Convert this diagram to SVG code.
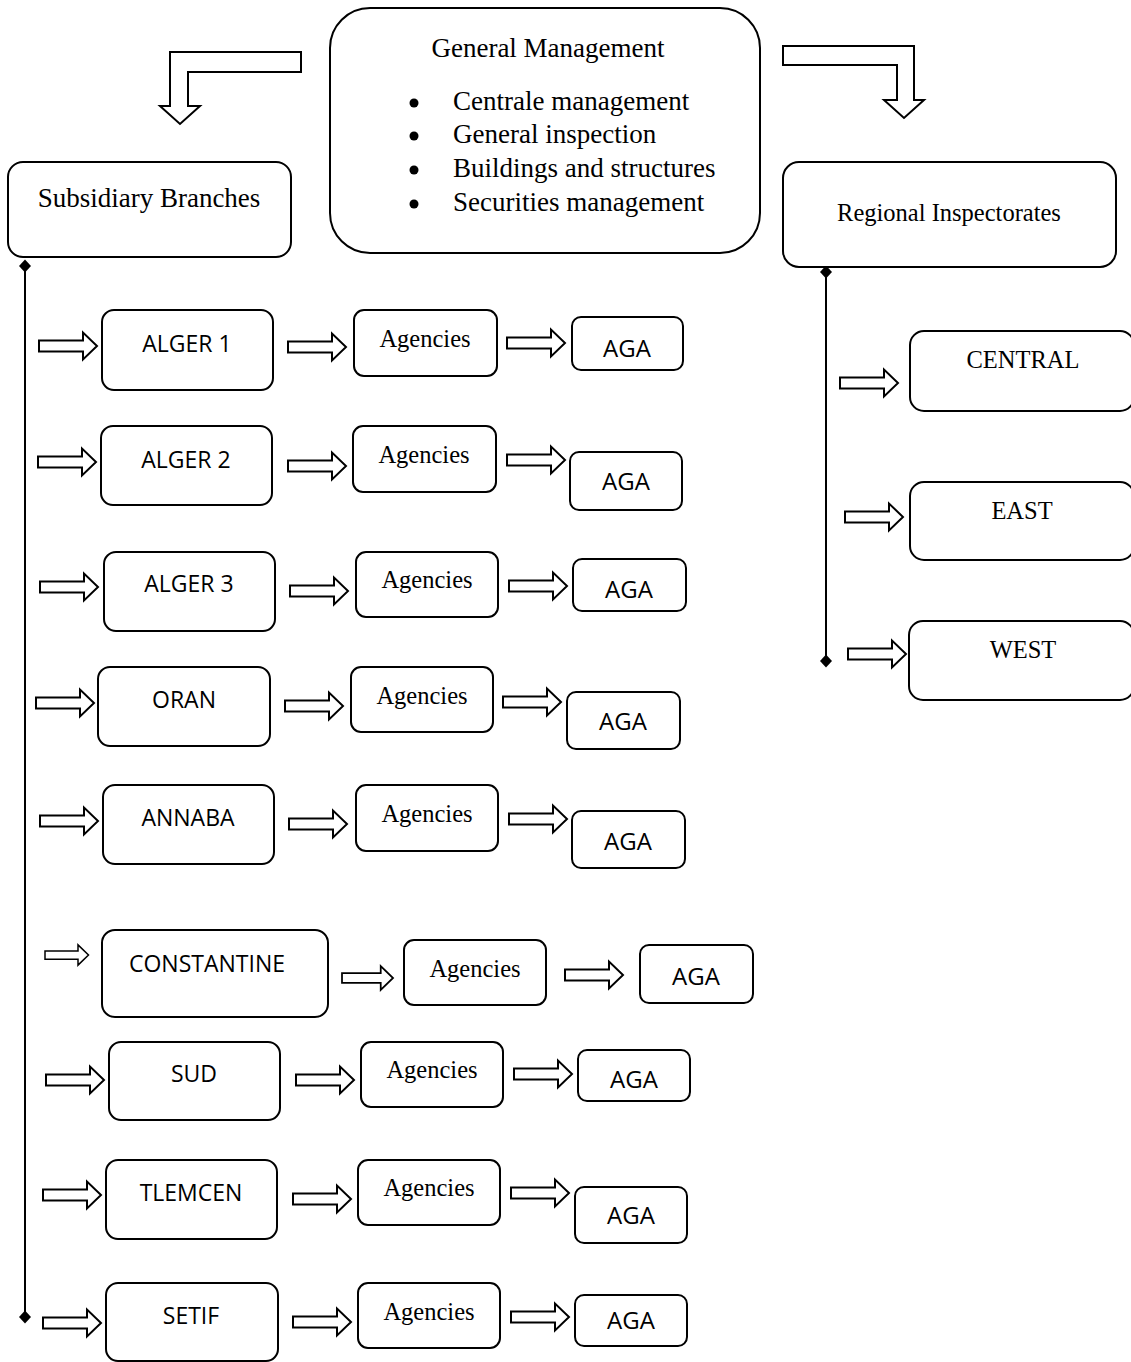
<svg xmlns="http://www.w3.org/2000/svg" xmlns:xlink="http://www.w3.org/1999/xlink" width="1131" height="1362" viewBox="0 0 1131 1362">
<style>
.box{fill:#fff;stroke:#000;stroke-width:2}
.arr{fill:#fff;stroke:#000;stroke-width:2;stroke-linejoin:miter}
.ln{stroke:#000;stroke-width:2;fill:none}
.serif{font-family:"Liberation Serif","Times New Roman",serif;fill:#000}
.sans{font-family:"Open Sans","Liberation Sans",sans-serif;fill:#000}
.t24{font-size:24.5px}
.t27{font-size:27px}
.br{font-size:23px}
.aga{font-size:24px}
</style>
<defs>
<path id="ba" class="arr" d="M0,-5.5 H44 V-13.5 L58,0 L44,13.5 V5.5 H0 Z"/>
<marker id="dia" viewBox="-7 -7 14 14" markerWidth="14" markerHeight="14" markerUnits="userSpaceOnUse" refX="0" refY="0" orient="0">
<path d="M-6,0 L0,-6.5 L6,0 L0,6.5 Z" fill="#000"/>
</marker>
</defs>

<g id="connectors">
<path class="arr" d="M301,52 L170,52 L170,106 L160,106 L180,124 L200,106 L188,106 L188,72 L301,72 Z"/>
<path class="arr" d="M783,46 L914,46 L914,100 L924,100 L904,118 L884,100 L897,100 L897,65 L783,65 Z"/>
<line class="ln" x1="25" y1="266" x2="25" y2="1317" marker-start="url(#dia)" marker-end="url(#dia)"/>
<line class="ln" x1="826" y1="272" x2="826" y2="661" marker-start="url(#dia)" marker-end="url(#dia)"/>
<use xlink:href="#ba" href="#ba" x="39" y="346"/>
<use xlink:href="#ba" href="#ba" x="288" y="347"/>
<use xlink:href="#ba" href="#ba" x="507" y="343"/>
<use xlink:href="#ba" href="#ba" x="38" y="462"/>
<use xlink:href="#ba" href="#ba" x="288" y="466"/>
<use xlink:href="#ba" href="#ba" x="507" y="460"/>
<use xlink:href="#ba" href="#ba" x="40" y="587"/>
<use xlink:href="#ba" href="#ba" x="290" y="591"/>
<use xlink:href="#ba" href="#ba" x="509" y="586"/>
<use xlink:href="#ba" href="#ba" x="36" y="703"/>
<use xlink:href="#ba" href="#ba" x="285" y="706"/>
<use xlink:href="#ba" href="#ba" x="503" y="702"/>
<use xlink:href="#ba" href="#ba" x="40" y="821"/>
<use xlink:href="#ba" href="#ba" x="289" y="824"/>
<use xlink:href="#ba" href="#ba" x="509" y="819"/>
<use xlink:href="#ba" href="#ba" transform="translate(45,955) scale(0.75)"/>
<use xlink:href="#ba" href="#ba" transform="translate(342,978) scale(0.88)"/>
<use xlink:href="#ba" href="#ba" x="565" y="975"/>
<use xlink:href="#ba" href="#ba" x="46" y="1080"/>
<use xlink:href="#ba" href="#ba" x="296" y="1080"/>
<use xlink:href="#ba" href="#ba" x="514" y="1074"/>
<use xlink:href="#ba" href="#ba" x="43" y="1195"/>
<use xlink:href="#ba" href="#ba" x="293" y="1199"/>
<use xlink:href="#ba" href="#ba" x="511" y="1193"/>
<use xlink:href="#ba" href="#ba" x="43" y="1323"/>
<use xlink:href="#ba" href="#ba" x="293" y="1322"/>
<use xlink:href="#ba" href="#ba" x="511" y="1317"/>
<use xlink:href="#ba" href="#ba" x="840" y="383"/>
<use xlink:href="#ba" href="#ba" x="845" y="517"/>
<use xlink:href="#ba" href="#ba" x="848" y="654"/>
</g>

<g id="general-management">
<rect class="box" x="330" y="8" width="430" height="245" rx="40"/>
<text class="serif t27" x="548" y="57" text-anchor="middle">General Management</text>
<circle cx="414" cy="103" r="4.5"/>
<circle cx="414" cy="136" r="4.5"/>
<circle cx="414" cy="170" r="4.5"/>
<circle cx="414" cy="204" r="4.5"/>
<text class="serif t27" x="453" y="110">Centrale management</text>
<text class="serif t27" x="453" y="143">General inspection</text>
<text class="serif t27" x="453" y="177">Buildings and structures</text>
<text class="serif t27" x="453" y="211">Securities management</text>
</g>

<g id="subsidiary-branches">
<rect class="box" x="8" y="162" width="283" height="95" rx="15"/>
<text class="serif t27" x="149" y="207" text-anchor="middle">Subsidiary Branches</text>
</g>

<g id="regional-inspectorates">
<rect class="box" x="783" y="162" width="333" height="105" rx="16"/>
<text class="serif t24" x="949" y="221" text-anchor="middle">Regional Inspectorates</text>
</g>

<g id="central"><rect class="box" x="910" y="331" width="224" height="80" rx="14"/><text class="serif t24" x="1023" y="368" text-anchor="middle">CENTRAL</text></g>
<g id="east"><rect class="box" x="910" y="482" width="224" height="78" rx="14"/><text class="serif t24" x="1022" y="519" text-anchor="middle">EAST</text></g>
<g id="west"><rect class="box" x="909" y="621" width="225" height="79" rx="14"/><text class="serif t24" x="1023" y="658" text-anchor="middle">WEST</text></g>

<g id="alger1"><rect class="box" x="102" y="310" width="171" height="80" rx="12"/><text class="sans br" x="187" y="352" text-anchor="middle">ALGER 1</text></g>
<g id="agencies1"><rect class="box" x="354" y="310" width="143" height="66" rx="10"/><text class="serif t24" x="425" y="347" text-anchor="middle">Agencies</text></g>
<g id="aga1"><rect class="box" x="572" y="317" width="111" height="53" rx="9"/><text class="sans aga" x="627" y="357" text-anchor="middle">AGA</text></g>

<g id="alger2"><rect class="box" x="101" y="426" width="171" height="79" rx="12"/><text class="sans br" x="186" y="468" text-anchor="middle">ALGER 2</text></g>
<g id="agencies2"><rect class="box" x="353" y="426" width="143" height="66" rx="10"/><text class="serif t24" x="424" y="463" text-anchor="middle">Agencies</text></g>
<g id="aga2"><rect class="box" x="570" y="452" width="112" height="58" rx="9"/><text class="sans aga" x="626" y="490" text-anchor="middle">AGA</text></g>

<g id="alger3"><rect class="box" x="104" y="552" width="171" height="79" rx="12"/><text class="sans br" x="189" y="592" text-anchor="middle">ALGER 3</text></g>
<g id="agencies3"><rect class="box" x="356" y="552" width="142" height="65" rx="10"/><text class="serif t24" x="427" y="588" text-anchor="middle">Agencies</text></g>
<g id="aga3"><rect class="box" x="573" y="559" width="113" height="52" rx="9"/><text class="sans aga" x="629" y="598" text-anchor="middle">AGA</text></g>

<g id="oran"><rect class="box" x="98" y="667" width="172" height="79" rx="12"/><text class="sans br" x="184" y="708" text-anchor="middle">ORAN</text></g>
<g id="agencies4"><rect class="box" x="351" y="667" width="142" height="65" rx="10"/><text class="serif t24" x="422" y="704" text-anchor="middle">Agencies</text></g>
<g id="aga4"><rect class="box" x="567" y="692" width="113" height="57" rx="9"/><text class="sans aga" x="623" y="730" text-anchor="middle">AGA</text></g>

<g id="annaba"><rect class="box" x="103" y="785" width="171" height="79" rx="12"/><text class="sans br" x="188" y="826" text-anchor="middle">ANNABA</text></g>
<g id="agencies5"><rect class="box" x="356" y="785" width="142" height="66" rx="10"/><text class="serif t24" x="427" y="822" text-anchor="middle">Agencies</text></g>
<g id="aga5"><rect class="box" x="572" y="811" width="113" height="57" rx="9"/><text class="sans aga" x="628" y="850" text-anchor="middle">AGA</text></g>

<g id="constantine"><rect class="box" x="102" y="930" width="226" height="87" rx="13"/><text class="sans br" x="207" y="972" text-anchor="middle">CONSTANTINE</text></g>
<g id="agencies6"><rect class="box" x="404" y="940" width="142" height="65" rx="10"/><text class="serif t24" x="475" y="977" text-anchor="middle">Agencies</text></g>
<g id="aga6"><rect class="box" x="640" y="945" width="113" height="58" rx="9"/><text class="sans aga" x="696" y="985" text-anchor="middle">AGA</text></g>

<g id="sud"><rect class="box" x="109" y="1042" width="171" height="78" rx="12"/><text class="sans br" x="194" y="1082" text-anchor="middle">SUD</text></g>
<g id="agencies7"><rect class="box" x="361" y="1042" width="142" height="65" rx="10"/><text class="serif t24" x="432" y="1078" text-anchor="middle">Agencies</text></g>
<g id="aga7"><rect class="box" x="578" y="1050" width="112" height="51" rx="9"/><text class="sans aga" x="634" y="1088" text-anchor="middle">AGA</text></g>

<g id="tlemcen"><rect class="box" x="106" y="1160" width="171" height="79" rx="12"/><text class="sans br" x="191" y="1201" text-anchor="middle">TLEMCEN</text></g>
<g id="agencies8"><rect class="box" x="358" y="1160" width="142" height="65" rx="10"/><text class="serif t24" x="429" y="1196" text-anchor="middle">Agencies</text></g>
<g id="aga8"><rect class="box" x="575" y="1187" width="112" height="56" rx="9"/><text class="sans aga" x="631" y="1224" text-anchor="middle">AGA</text></g>

<g id="setif"><rect class="box" x="106" y="1283" width="172" height="78" rx="12"/><text class="sans br" x="191" y="1324" text-anchor="middle">SETIF</text></g>
<g id="agencies9"><rect class="box" x="358" y="1283" width="142" height="65" rx="10"/><text class="serif t24" x="429" y="1320" text-anchor="middle">Agencies</text></g>
<g id="aga9"><rect class="box" x="575" y="1295" width="112" height="51" rx="9"/><text class="sans aga" x="631" y="1329" text-anchor="middle">AGA</text></g>
</svg>
